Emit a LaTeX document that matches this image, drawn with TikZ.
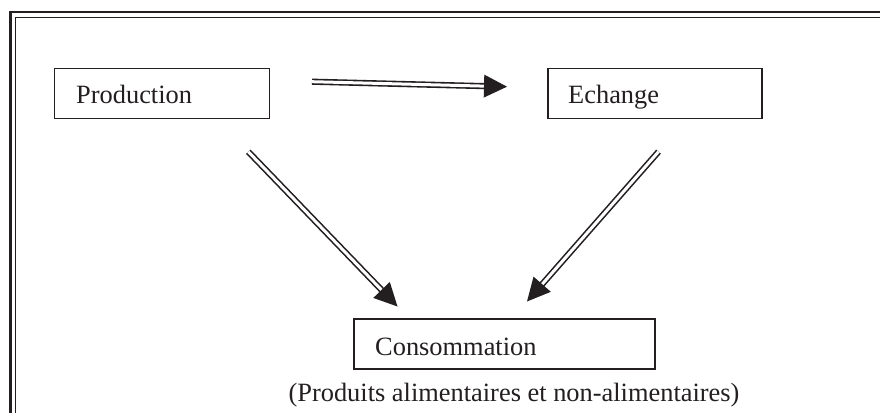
\documentclass[tikz,border=0pt]{standalone}
\usepackage{fontspec}
\setmainfont{Liberation Serif}
\usetikzlibrary{calc}
\definecolor{ink}{RGB}{35,31,32}
\newcommand\arrhead[2]{%
  \fill[ink] (#2) -- ($($(#2)!23pt!(#1)$)!11.5pt!90:(#2)$) -- ($($(#2)!23pt!(#1)$)!11.5pt!-90:(#2)$) -- cycle;}
\begin{document}
\begin{tikzpicture}[x=1pt,y=-1pt,
  box/.style={draw=ink, line width=1.5pt, inner sep=0pt, minimum height=50.4pt},
  lbl/.style={anchor=base west, inner sep=0pt, text=ink, font=\fontsize{26.4}{30}\selectfont},
  caption/.style={anchor=base, inner sep=0pt, text=ink, font=\fontsize{26.4}{30}\selectfont},
  dbl/.style={draw=ink, double=white, double distance=3pt, line width=1.6pt, shorten >=21pt},
  ]
\useasboundingbox (0,0) rectangle (880,412);
\fill[white] (0,0) rectangle (880,412);
% frame (cropped)
\begin{scope}
  \clip (0,0) rectangle (880,412);
  \draw[ink, line width=2.5pt] (10.5,450) -- (10.5,12) -- (900,12);
  \draw[ink, line width=1.6pt] (15.5,450) -- (15.5,17.5) -- (900,17.5);
\end{scope}
% boxes
\node[box, minimum width=215pt] (prod) at (161.8,93.5) {};
\node[box, minimum width=214pt] (ech) at (655,93.5) {};
\node[box, minimum width=301pt, minimum height=50pt] (cons) at (504.5,344) {};
\node[lbl] (prodt) at (76,103.3) {Production};
\node[lbl] (echt) at (568,103.3) {Echange};
\node[lbl] (const) at (375,355) {Consommation};
\node[caption] (cap) at (514,401) {(Produits alimentaires et non-alimentaires)};
% connector end points
\coordinate (a1s) at (312,81.7);
\coordinate (a1e) at (507,86.7);
\coordinate (a2s) at (248.3,151.7);
\coordinate (a2e) at (397.5,306.5);
\coordinate (a3s) at (658.5,151.7);
\coordinate (a3e) at (527,301.5);
% connectors
\draw[dbl] (a1s) -- (a1e);
\arrhead{a1s}{a1e}
\draw[dbl] (a2s) -- (a2e);
\arrhead{a2s}{a2e}
\draw[dbl] (a3s) -- (a3e);
\arrhead{a3s}{a3e}
\end{tikzpicture}
\end{document}
